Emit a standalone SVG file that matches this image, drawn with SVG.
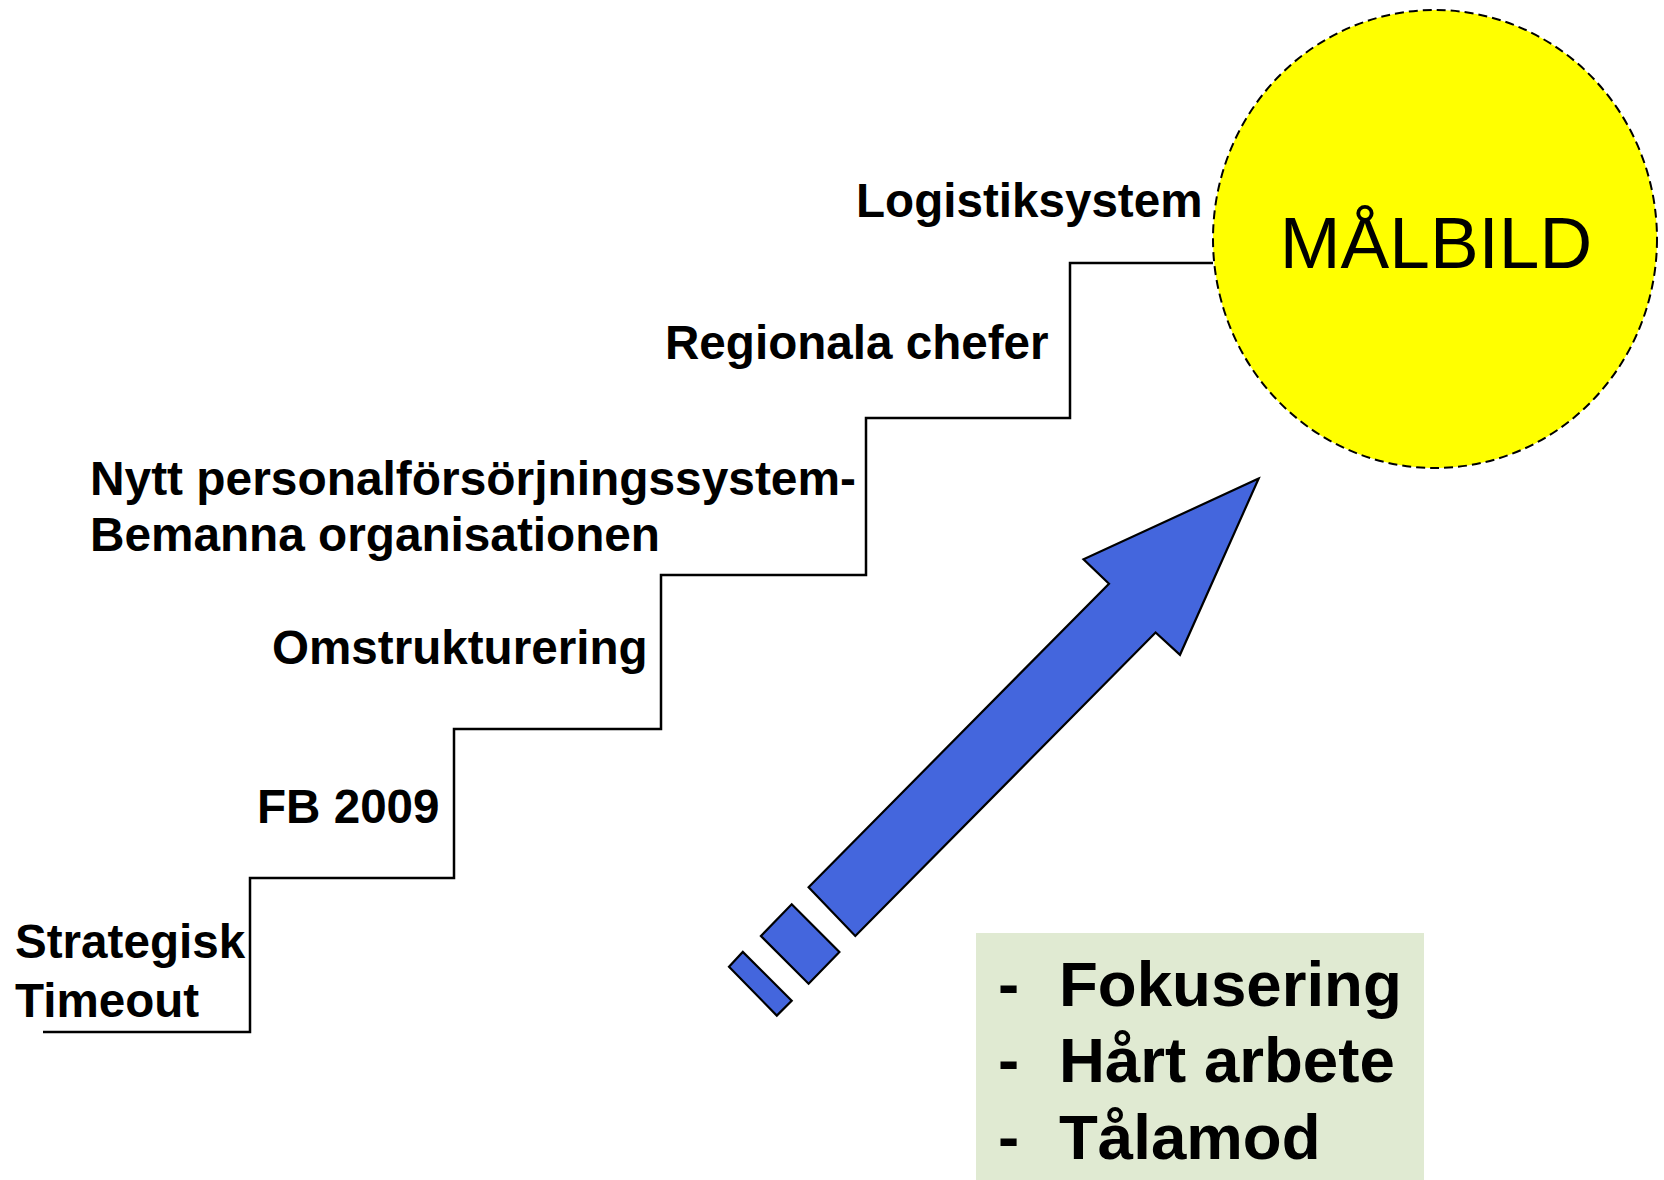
<svg xmlns="http://www.w3.org/2000/svg" width="1664" height="1180" viewBox="0 0 1664 1180">
<style>
.lbl{font-family:"Liberation Sans",Arial,sans-serif;font-weight:bold;font-size:47.6px;fill:#000}
.big{font-family:"Liberation Sans",Arial,sans-serif;font-weight:bold;font-size:63.6px;fill:#000}
.stair{fill:none;stroke:#000;stroke-width:2.5}
.blue{fill:#4466dd;stroke:#000;stroke-width:2.2;stroke-linejoin:miter}
</style>
<rect width="1664" height="1180" fill="#fff"/>
<g id="connectors">
<polyline class="stair" points="43,1032 250,1032 250,878 454,878 454,729 661,729 661,575 866,575 866,418 1070,418 1070,263 1213,263"/>
</g>
<g id="goal">
<ellipse cx="1435" cy="239" rx="222" ry="229" fill="#ffff00" stroke="#000" stroke-width="2" stroke-dasharray="9 5"/>
<text x="1436" y="268" text-anchor="middle" font-family="'Liberation Sans',Arial,sans-serif" font-size="73" fill="#000">MÅLBILD</text>
</g>
<g id="step-logistik"><text class="lbl" x="856" y="217">Logistiksystem</text></g>
<g id="step-regionala"><text class="lbl" x="665" y="359">Regionala chefer</text></g>
<g id="step-nytt"><text class="lbl" x="90" y="495" textLength="766" lengthAdjust="spacingAndGlyphs">Nytt personalförsörjningssystem-</text><text class="lbl" x="90" y="551" textLength="570" lengthAdjust="spacingAndGlyphs">Bemanna organisationen</text></g>
<g id="step-omstrukturering"><text class="lbl" x="272" y="664">Omstrukturering</text></g>
<g id="step-fb"><text class="lbl" x="257" y="823">FB 2009</text></g>
<g id="step-strategisk"><text class="lbl" x="15" y="958">Strategisk</text><text class="lbl" x="15" y="1017">Timeout</text></g>
<g id="arrow">
<polygon class="blue" points="1258.6,478.6 1083.5,559.3 1109,583.7 808.6,887.2 855.3,936 1155.6,632.5 1180,654.8"/>
<polygon class="blue" points="760.9,936 791.7,904.2 839.4,951.9 808.6,983.7"/>
<polygon class="blue" points="729,966.7 742.8,951.9 791.7,1000.7 776.8,1015.6"/>
</g>
<g id="keys">
<rect x="976" y="933" width="448" height="247" fill="#e0ead2"/>
<text class="big" x="998" y="1006">-</text><text class="big" x="1059" y="1006">Fokusering</text>
<text class="big" x="998" y="1082">-</text><text class="big" x="1059" y="1082">Hårt arbete</text>
<text class="big" x="998" y="1159">-</text><text class="big" x="1059" y="1159">Tålamod</text>
</g>
</svg>
